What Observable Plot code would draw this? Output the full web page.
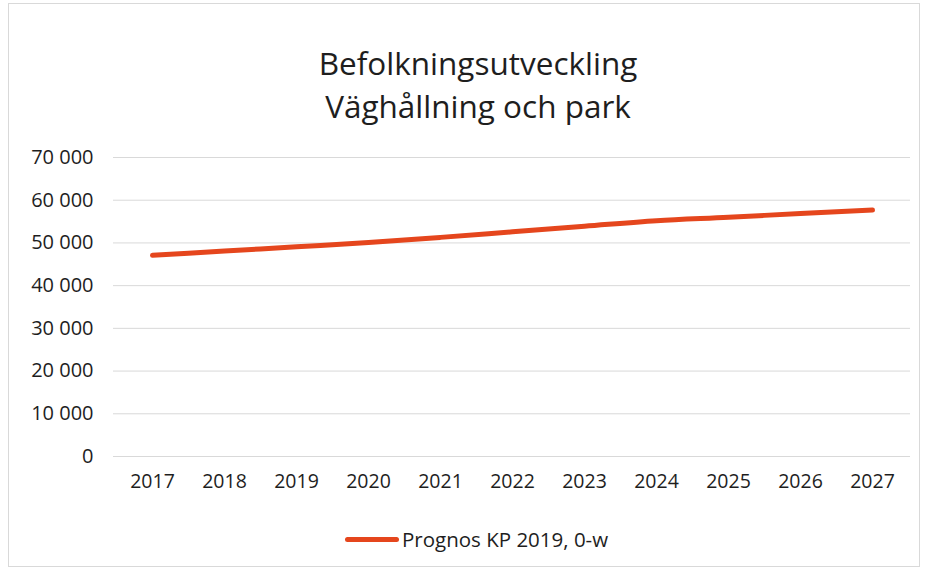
<!DOCTYPE html>
<html>
<head>
<meta charset="utf-8">
<script src="https://cdn.jsdelivr.net/npm/d3@7"></script>
<script src="https://cdn.jsdelivr.net/npm/@observablehq/plot@0.6"></script>
<style>
  html, body { margin: 0; padding: 0; background: #fff; }
  #wrap { position: relative; width: 927px; height: 574px; overflow: hidden; font-family: "Open Sans", sans-serif; color: #222; }
  #frame { position: absolute; left: 8px; top: 3px; width: 912px; height: 564px; border: 1px solid #d9d9d9; box-sizing: border-box; }
  #title { position: absolute; left: 0; width: 956px; top: 41px; text-align: center; font-size: 31.5px; line-height: 43px; color: #1e1e1e; }
  #chart { position: absolute; left: 0; top: 140px; }
  #legend { position: absolute; left: 345px; top: 525px; display: flex; align-items: center; font-size: 20.5px; color: #1e1e1e; }
  #legend .sw { width: 54px; height: 5px; border-radius: 3px; background: #E5461D; margin-right: 3px; }
</style>
</head>
<body>
<div id="wrap">
  <div id="frame"></div>
  <div id="title">Befolkningsutveckling<br>Väghållning och park</div>
  <div id="chart"></div>
  <div id="legend"><div class="sw"></div><span id="legtext"></span></div>
</div>
<script>
const years = ["2017","2018","2019","2020","2021","2022","2023","2024","2025","2026","2027"];
const population = [47100, 48100, 49100, 50100, 51300, 52600, 53900, 55200, 56000, 56900, 57700];
const yTicks = [0, 10000, 20000, 30000, 40000, 50000, 60000, 70000];
const seriesName = "Prognos KP 2019, 0-w";

const data = years.map((y, i) => ({year: y, value: population[i]}));
const fmt = d3.formatLocale({decimal: ",", thousands: " ", grouping: [3], currency: ["", " kr"]}).format(",d");

document.getElementById("legtext").textContent = seriesName;

const plot = Plot.plot({
  width: 927,
  height: 360,
  marginLeft: 113,
  marginRight: 17,
  marginTop: 17,
  marginBottom: 44,
  style: {fontFamily: "Open Sans, sans-serif", fontSize: "19.5px", color: "#1e1e1e", background: "transparent"},
  x: {type: "point", domain: years, padding: 0.5, label: null},
  y: {domain: [0, 70000], ticks: yTicks, label: null},
  marks: [
    Plot.ruleY(yTicks, {stroke: "#d9d9d9", strokeWidth: 1}),
    Plot.axisY({ticks: yTicks, tickSize: 0, tickPadding: 20, tickFormat: fmt, label: null, fontSize: 20}),
    Plot.axisX({tickSize: 0, tickPadding: 18, label: null, fontSize: 19.5}),
    Plot.line(data, {x: "year", y: "value", stroke: "#E5461D", strokeWidth: 5, strokeLinecap: "round", strokeLinejoin: "round", curve: "monotone-x"})
  ]
});
document.getElementById("chart").appendChild(plot);
</script>
</body>
</html>
